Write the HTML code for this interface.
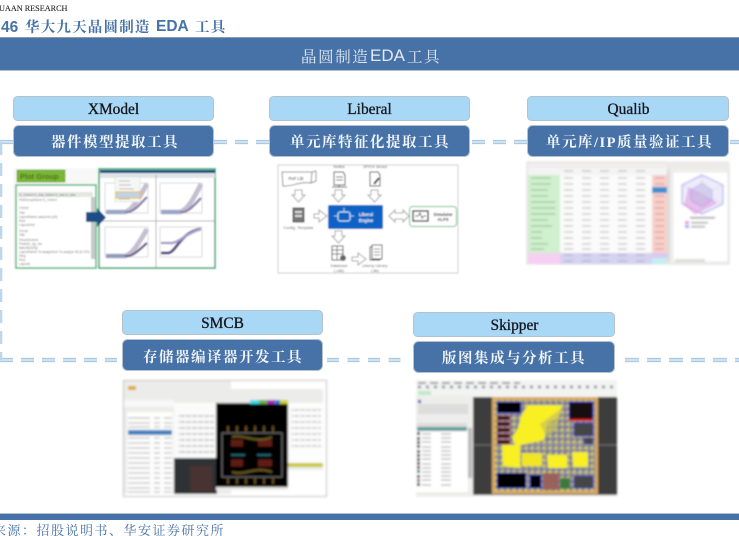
<!DOCTYPE html>
<html lang="zh">
<head>
<meta charset="utf-8">
<style>
html,body{margin:0;padding:0;background:#fff;width:739px;height:536px;overflow:hidden}
svg{display:block}
.s{font-family:"Liberation Serif","Noto Serif CJK SC",serif}
.a{font-family:"Liberation Sans","Noto Serif CJK SC",sans-serif}
</style>
</head>
<body>
<svg width="739" height="536" viewBox="0 0 739 536" xmlns="http://www.w3.org/2000/svg">
<defs>
<filter id="b1" x="-5%" y="-5%" width="110%" height="110%"><feGaussianBlur stdDeviation="0.7"/></filter>
<filter id="b2" x="-5%" y="-5%" width="110%" height="110%"><feGaussianBlur stdDeviation="1"/></filter>
<pattern id="tx" width="6" height="6" patternUnits="userSpaceOnUse"><rect x="0" y="1" width="5" height="2" fill="#b4b4b4"/></pattern>
<pattern id="mesh" width="6" height="6" patternUnits="userSpaceOnUse"><rect width="6" height="6" fill="#9c9a8c"/><rect x="0" y="0" width="3" height="3" fill="#6f72a6"/><rect x="3" y="3" width="2" height="2" fill="#e6de30"/></pattern>
</defs>

<!-- page heading -->
<text x="-1" y="11" class="s" font-size="8.200" fill="#222" stroke="#222" stroke-width=".1">UAAN RESEARCH</text>
<text x="1" y="32" class="a" font-size="15.500" font-weight="700" fill="#4672a8">46</text>
<text x="25" y="32" class="s" font-size="14.500" font-weight="700" letter-spacing="1.200" fill="#4672a8">华大九天晶圆制造</text>
<text x="156" y="31" class="a" font-size="15.500" font-weight="700" fill="#4672a8">EDA</text>
<text x="195" y="32" class="s" font-size="14.500" font-weight="700" letter-spacing="1.200" fill="#4672a8">工具</text>

<!-- title bar -->
<rect x="0" y="37" width="739" height="33.500" fill="#4672a8"/>
<rect x="0" y="37" width="739" height="1" fill="#8d98a8"/>
<rect x="0" y="70" width="739" height="1" fill="#b4bcc8"/>
<text x="301" y="62" class="s" font-size="15.500" letter-spacing="1.600" fill="#e4e9f1">晶圆制造</text>
<text x="370" y="61" class="a" font-size="17" fill="#e4e9f1">EDA</text>
<text x="407" y="62" class="s" font-size="15.500" letter-spacing="1.600" fill="#e4e9f1">工具</text>

<!-- dashed connectors -->
<g fill="none" stroke="#a6bed2" stroke-width="4.200">
<path d="M0 142H13"/>
<path d="M214 142H269" stroke-dasharray="13 8"/>
<path d="M472 142H527" stroke-dasharray="13 8"/>
<path d="M730 142H739"/>
<path d="M0 360H117" stroke-dasharray="13 8"/>
<path d="M327 360H401" stroke-dasharray="12 8.500"/>
<path d="M625 360H739" stroke-dasharray="14 8"/>
</g>
<g fill="none" stroke="#cbe3f5" stroke-width="2.600">
<path d="M0 142H13"/>
<path d="M214 142H269" stroke-dasharray="13 8"/>
<path d="M472 142H527" stroke-dasharray="13 8"/>
<path d="M730 142H739"/>
<path d="M0 360H117" stroke-dasharray="13 8"/>
<path d="M327 360H401" stroke-dasharray="12 8.500"/>
<path d="M625 360H739" stroke-dasharray="14 8"/>
</g>
<path d="M1 142V360" fill="none" stroke="#bcd6ea" stroke-width="2.600" stroke-dasharray="13 8"/>

<!-- tool boxes -->
<g stroke="#b4c2ce" stroke-width="1">
<rect x="13.500" y="96.500" width="200" height="24" rx="4" fill="#a9d8f7"/>
<rect x="269.500" y="96.500" width="200" height="24" rx="4" fill="#a9d8f7"/>
<rect x="527.500" y="96.500" width="201" height="24" rx="4" fill="#a9d8f7"/>
<rect x="122.500" y="310.500" width="200" height="24" rx="4" fill="#a9d8f7"/>
<rect x="413.500" y="312.500" width="201" height="24" rx="4" fill="#a9d8f7"/>
<rect x="13.500" y="125.500" width="200" height="31" rx="5" fill="#4672a8"/>
<rect x="269.500" y="125.500" width="200" height="31" rx="5" fill="#4672a8"/>
<rect x="527.500" y="125.500" width="201" height="31" rx="5" fill="#4672a8"/>
<rect x="122.500" y="339.500" width="200" height="31" rx="5" fill="#4672a8"/>
<rect x="413.500" y="341.500" width="201" height="31" rx="5" fill="#4672a8"/>
</g>
<g class="s" font-size="15.400" text-anchor="middle" fill="#15171c" stroke="#15171c" stroke-width=".3">
<text x="113.500" y="114">XModel</text>
<text x="369.500" y="114">Liberal</text>
<text x="628.500" y="114">Qualib</text>
<text x="222.500" y="328">SMCB</text>
<text x="514.500" y="330">Skipper</text>
</g>
<g class="s" font-size="14.500" font-weight="700" fill="#f2f5f9" letter-spacing="1.500">
<text x="51" y="147">器件模型提取工具</text>
<text x="290" y="147">单元库特征化提取工具</text>
<text x="546" y="147">单元库/IP质量验证工具</text>
<text x="143" y="362">存储器编译器开发工具</text>
<text x="442" y="363">版图集成与分析工具</text>
</g>

<!-- XModel screenshot -->
<g filter="url(#b1)">
<rect x="13" y="168" width="202" height="100" fill="#f7f8f7"/>
<rect x="17" y="170" width="48" height="12" fill="#79b735" stroke="#5c9427" stroke-width=".6"/>
<text x="20" y="179" class="a" font-size="7.500" font-weight="700" fill="#4f6d1f">Plot Group</text>
<rect x="16" y="185" width="80" height="83" fill="#fff" stroke="#62bb82" stroke-width="1.600"/>
<rect x="18" y="192" width="75" height="5" fill="#e4e6e4"/>
<g fill="#777" class="a" font-size="3.200">
<text x="19" y="196">I1_Oxford  m_aaa_tstand  m_aaa  m_aaa</text>
<text x="19" y="201">PlotGroupName:I1_Oxford</text>
<text x="19" y="209">Oxford</text><text x="19" y="214">Title</text>
<text x="19" y="218">LayoutName aaa(4x4x,pt3)</text><text x="19" y="222">Row</text>
<text x="19" y="226">LayoutGrid</text><text x="19" y="232">Group</text>
<text x="19" y="236">Title</text><text x="19" y="241">ShowDevices</text>
<text x="19" y="245">Plotsidx_typ_idx</text><text x="19" y="249">BatchBoxDlg</text>
<text x="19" y="253">LayoutName Ta aaa(picture Ta aaa)(ax 48 (8 120)</text>
<text x="19" y="257">Ring</text><text x="19" y="261">Row</text>
<text x="19" y="265">Layouts</text>
</g>
<rect x="91" y="197" width="4" height="62" fill="#c8c8c8"/>
<rect x="99" y="169" width="116" height="99" fill="#fff" stroke="#45a878" stroke-width="1.600"/>
<rect x="100" y="170" width="115" height="3" fill="#144e7e"/>
<rect x="100" y="173" width="115" height="5" fill="#dfe3e6"/>
<g fill="none" stroke="#c0c0c0" stroke-width=".6">
<rect x="105" y="183" width="43" height="30"/><rect x="160" y="183" width="42" height="30"/>
<rect x="105" y="227" width="43" height="30"/><rect x="160" y="227" width="42" height="30"/>
</g>
<path d="M99 221H215M156 175V268" stroke="#999" stroke-width=".7"/>
<g fill="none">
<path d="M106 212H125C133 210 140 196 147 184" stroke="#c4c0d0" stroke-width="5"/>
<path d="M106 212H128C135 211 141 203 147 197" stroke="#8e83ad" stroke-width="2.500"/>
<path d="M161 212H180C188 210 195 196 201 184" stroke="#c4c0d0" stroke-width="5"/>
<path d="M161 212H183C190 211 196 203 201 198" stroke="#8e83ad" stroke-width="2.500"/>
<path d="M106 256H125C133 254 140 241 147 229" stroke="#c4c0d0" stroke-width="5"/>
<path d="M106 256H128C135 255 141 248 147 243" stroke="#74648e" stroke-width="2.500"/>
<path d="M161 253H168C176 253 180 232 201 229" stroke="#5e5288" stroke-width="3"/>
<path d="M161 243H170C178 244 184 234 201 229" stroke="#a8a0c8" stroke-width="2.500"/>
</g>
<path d="M106 212H125M161 212H180M106 256H125" stroke="#7fb7e0" stroke-width="1.200"/>
<rect x="115" y="177" width="25" height="25" fill="#f6f6f6" stroke="#ccc" stroke-width=".4"/>
<path d="M119 181H130M119 185H131M119 189H134M119 199H130" stroke="#aaa" stroke-width=".8"/>
<rect x="116" y="192" width="24" height="6" fill="#b9d4ee" stroke="#ecc23e" stroke-width="1.200"/>
<path d="M86 212H97V208L106 217.500L97 227V222H86Z" fill="#1c4d86"/>
</g>

<!-- Liberal flow -->
<g filter="url(#b1)">
<rect x="278" y="165" width="180" height="108" fill="#fff" stroke="#cfcfcf" stroke-width="1"/>
<path d="M282 172H312L311 183C300 181 292 187 283 186Z" fill="#fff" stroke="#8d8d8d"/>
<path d="M312 172L316 171V181L311 183" fill="none" stroke="#8d8d8d"/>
<text x="296" y="180" class="a" font-size="4.800" text-anchor="middle" fill="#333">Ref Lib</text>
<text x="339" y="168" class="a" font-size="4" text-anchor="middle" fill="#555">Netlist</text>
<text x="375" y="168" class="a" font-size="4" text-anchor="middle" fill="#555">SPICE Model</text>
<path d="M334 172H343L345 175V185H334Z" fill="#fff" stroke="#333"/><path d="M336 177H343M336 180H343" stroke="#333" stroke-width=".8"/><path d="M332 187H347M339 185V187" stroke="#333"/>
<path d="M370 172H378L380 175V186H370Z" fill="#fff" stroke="#333"/><path d="M374 184L379 178" stroke="#333" stroke-width="2"/>
<g fill="#fff" stroke="#a5a5a5" stroke-width="1">
<path d="M295 190H302V195H305L298.500 202L292 195H295Z"/>
<path d="M335 190H342V195H345L338.500 202L332 195H335Z"/>
<path d="M371 190H378V195H381L374.500 202L368 195H371Z"/>
<path d="M335 231H342V236H345L338.500 243L332 236H335Z"/>
<path d="M314 214H319V210L327 216L319 222V218H314Z"/>
<path d="M352 257H358V253L366 259L358 265V261H352Z"/>
<path d="M389 216L395 210V213H403V210L409 216L403 222V219H395V222Z"/>
</g>
<rect x="293" y="208" width="11" height="14" fill="#777" stroke="#444"/><rect x="295" y="211" width="7" height="2" fill="#ddd"/><rect x="295" y="215" width="7" height="2" fill="#ddd"/>
<text x="298.500" y="229" class="a" font-size="4" text-anchor="middle" fill="#555">Config. Template</text>
<rect x="328" y="205" width="55" height="24" rx="1.500" fill="#0a63c5"/>
<rect x="338" y="212" width="12" height="9" rx="2" fill="none" stroke="#d4e4f7" stroke-width="1"/>
<path d="M334 216H338M350 216H354M344 208V212" stroke="#d4e4f7" stroke-width=".8"/>
<text x="366" y="216" class="a" font-size="4.300" font-weight="700" text-anchor="middle" fill="#fff">Liberal</text>
<text x="366" y="222" class="a" font-size="4.300" font-weight="700" text-anchor="middle" fill="#fff">Engine</text>
<rect x="409.500" y="206.500" width="47" height="20" rx="3" fill="#fff" stroke="#8dc9a4" stroke-width="1.200"/>
<rect x="413" y="211" width="15" height="10" fill="#fff" stroke="#222" stroke-width="1.300"/>
<path d="M415 216H418L420 213L422 218L424 216H426" stroke="#222" fill="none" stroke-width=".8"/>
<text x="443" y="216" class="a" font-size="4.200" font-weight="700" text-anchor="middle" fill="#222">Simulator</text>
<text x="443" y="221" class="a" font-size="4.200" font-weight="700" text-anchor="middle" fill="#222">ALPS</text>
<rect x="332" y="246" width="11" height="14" fill="#fff" stroke="#444"/><path d="M332 250H343M332 254H343M337 246V260" stroke="#444" stroke-width=".7"/><circle cx="343" cy="258" r="3" fill="#666"/>
<text x="339" y="267" class="a" font-size="4" text-anchor="middle" fill="#555">Database</text>
<text x="339" y="272" class="a" font-size="4" text-anchor="middle" fill="#555">(.cdb)</text>
<rect x="370" y="247" width="10" height="13" fill="#fff" stroke="#444"/><rect x="372" y="245" width="10" height="14" fill="#fff" stroke="#444"/><path d="M374 249H380M374 252H380M374 255H380" stroke="#666" stroke-width=".7"/>
<text x="375" y="267" class="a" font-size="4" text-anchor="middle" fill="#555">Liberty Library</text>
<text x="375" y="272" class="a" font-size="4" text-anchor="middle" fill="#555">(.lib)</text>
</g>

<!-- Qualib screenshot -->
<g filter="url(#b2)">
<rect x="527" y="162" width="202" height="102" fill="#f0efec" stroke="#c8c8c8" stroke-width=".6"/>
<rect x="528" y="168" width="140" height="7" fill="#f4f4f4"/>
<rect x="528" y="175" width="32" height="78" fill="#d0f0cf"/>
<rect x="560" y="175" width="92" height="78" fill="#fbfbfb"/>
<rect x="652" y="175" width="15" height="78" fill="#f8d0cb"/>
<rect x="652" y="187" width="15" height="6" fill="#3e8ed2"/>
<rect x="667" y="168" width="3" height="94" fill="#dcdcd8"/>
<rect x="528" y="253" width="32" height="11" fill="#f6d0f2"/>
<rect x="560" y="253" width="92" height="11" fill="#d6d2f2"/>
<rect x="652" y="253" width="15" height="6" fill="#d8caf0"/>
<rect x="652" y="258" width="15" height="6" fill="#c4eff2"/>
<g stroke="#a8a8a8" stroke-width="1" stroke-dasharray="9 9">
<path d="M564 178H650M564 184H650M564 190H650M564 196H650M564 202H650M564 208H650M564 214H650M564 220H650M564 226H650M564 232H650M564 238H650M564 244H650M564 249H650M564 255H650M564 261H650M564 171H650"/>
</g>
<g stroke="#86b47e" stroke-width="1"><path d="M531 178H551M531 184H551M531 190H548M531 196H548M531 202H555M531 208H555M531 214H555M531 220H548M531 226H552M531 232H542M531 238H542M531 244H548M531 249H544"/></g>
<g stroke="#d09090" stroke-width="1"><path d="M655 178H664M655 184H664M655 196H664M655 202H664M655 208H664M655 214H664M655 220H664M655 226H664M655 232H664M655 238H664M655 244H664M655 249H664"/></g>
<rect x="673" y="172" width="55" height="90" fill="#fff" stroke="#ddd" stroke-width=".5"/>
<path d="M702 175L723 185V204L702 214L682 204V185Z" fill="#eeecfb" stroke="#8484e8" stroke-width=".8"/>
<path d="M702 194L689 188L685 205L695 214L716 203Z" fill="#e6a4e2" opacity=".6" stroke="#d95cd8" stroke-width=".8"/>
<path d="M702 183L712 190V200L702 207L691 200V190Z" fill="#bcb4e6" opacity=".5" stroke="#6a6ad8" stroke-width=".7"/>
<path d="M702 175V214M682 185L723 204M723 185L682 204" stroke="#ccc" stroke-width=".5"/>
<rect x="666" y="162" width="63" height="7" fill="#ecebe8"/>
<rect x="690" y="217" width="25" height="1.500" fill="#888"/>
<rect x="685" y="221" width="4" height="3" fill="#e890e0"/><rect x="691" y="222" width="17" height="1.500" fill="#999"/>
<rect x="685" y="225" width="4" height="3" fill="#a0a0f0"/><rect x="691" y="226" width="14" height="1.500" fill="#999"/>
<rect x="675" y="259" width="30" height="3" fill="#ddd"/>
</g>

<!-- SMCB screenshot -->
<g filter="url(#b2)">
<rect x="123.500" y="380.500" width="203" height="116" fill="#fff" stroke="#bcbcbc" stroke-width="1"/>
<rect x="124" y="381" width="107" height="113" fill="#ececea"/>
<rect x="127" y="412" width="46" height="82" fill="#fdfdfd"/>
<rect x="124" y="400" width="50" height="7" fill="#f8f8f8"/>
<rect x="128" y="386" width="8" height="4" fill="#e0ab38"/>
<path d="M128 418H172M128 423H172M128 427H172M128 438H172M128 443H172M128 448H172M128 453H172M128 458H172M128 463H172M128 468H172M128 473H172M128 478H172M128 483H172M128 488H172M128 492H172" stroke="#aaa" stroke-width="1" stroke-dasharray="22 4 6 4 10 3"/>
<rect x="128" y="430" width="44" height="5" fill="#3f81bc"/>
<rect x="174" y="403" width="42" height="55" fill="#fbfbfb"/>
<rect x="178" y="413" width="36" height="42" fill="url(#tx)" opacity=".7"/>
<rect x="174" y="458" width="43" height="36" fill="#2d3334"/>
<rect x="190" y="466" width="22" height="26" fill="#5e3430" opacity=".6"/>
<rect x="216" y="389" width="107" height="81" fill="#ececea"/>
<rect x="288" y="403" width="35" height="60" fill="#fdfdfd"/>
<rect x="291" y="408" width="30" height="43" fill="url(#tx)" opacity=".6"/>
<rect x="288" y="463" width="35" height="4" fill="#c9c83e"/>
<rect x="216" y="470" width="72" height="20" fill="#e8e8e6"/>
<rect x="216" y="403" width="72" height="84" fill="#000"/>
<rect x="250" y="400" width="9" height="4" fill="#3ed8e8"/><rect x="259" y="400" width="8" height="4" fill="#6ab04a"/><rect x="267" y="400" width="8" height="4" fill="#a030b8"/><rect x="275" y="400" width="5" height="4" fill="#2080d0"/><rect x="280" y="400" width="8" height="4" fill="#d0d020"/>
<rect x="222" y="433" width="60" height="44" fill="none" stroke="#888" stroke-width=".8"/>
<path d="M228 426V432M237 426V432M246 426V432M255 426V432M264 426V432M273 426V432M228 478V484M237 478V484M246 478V484M255 478V484M264 478V484M273 478V484" stroke="#8a6826" stroke-width="1.200"/>
<path d="M231 443H243M231 463H243M258 443H272M258 463H272" stroke="#5e1a14" stroke-width="7"/>
<path d="M232 437C245 434 255 444 272 437M232 472C245 476 255 466 272 472" stroke="#6a5c20" stroke-width="2" fill="none"/>
<path d="M231 455H245M257 455H271" stroke="#2a7a88" stroke-width="1.500"/>
</g>

<!-- Skipper screenshot -->
<g filter="url(#b2)">
<rect x="416" y="380" width="201" height="117" fill="#f3f3f1"/>
<path d="M418 383H520" stroke="#555" stroke-width="1.200" stroke-dasharray="8 4"/>
<path d="M418 387H616" stroke="#7786a0" stroke-width="2.500" stroke-dasharray="3 5"/>
<rect x="418" y="391" width="13" height="4" fill="#bfe8c4"/>
<rect x="416" y="396" width="56" height="100" fill="#ededeb"/>
<rect x="418" y="400" width="3" height="3" fill="#1a33aa"/>
<rect x="418" y="404" width="50" height="10" fill="#ddd"/>
<rect x="416" y="429" width="52" height="63" fill="#fff"/>
<rect x="417" y="423" width="50" height="4" fill="#ddd"/>
<rect x="417" y="427" width="50" height="4" fill="#5d9c98"/>
<g fill="#111"><rect x="417" y="432" width="3" height="3"/><rect x="417" y="437" width="3" height="3"/><rect x="417" y="441" width="3" height="3"/><rect x="417" y="445" width="3" height="3"/><rect x="417" y="450" width="3" height="3"/><rect x="417" y="454" width="3" height="3"/><rect x="417" y="458" width="3" height="3"/><rect x="417" y="462" width="3" height="3"/><rect x="417" y="466" width="3" height="3"/><rect x="417" y="470" width="3" height="3" fill="#186a20"/><rect x="417" y="475" width="3" height="3"/><rect x="417" y="479" width="3" height="3" fill="#786050"/><rect x="417" y="483" width="3" height="3"/></g>
<path d="M422 434H431M441 434H451M422 438H431M441 438H451M422 442H431M441 442H451M422 447H431M441 447H451M422 451H431M441 451H451M422 455H431M441 455H451M422 459H431M441 459H451M422 464H431M441 464H451M422 468H431M441 468H451M422 472H431M441 472H451M422 476H431M441 476H451M422 480H431M441 480H451M422 485H431M441 485H451" stroke="#666" stroke-width=".8"/>
<rect x="468" y="428" width="4" height="50" fill="#b8b8b8"/>
<rect x="473" y="397" width="144" height="98" fill="#3d3d3d"/>
<rect x="492" y="397" width="106" height="97" fill="#d8a860"/>
<rect x="495" y="400" width="100" height="91" fill="url(#mesh)"/>
<path d="M473 445H617" stroke="#aaa" stroke-width=".5"/>
<path d="M528 405H562L558 418L548 422L544 440L530 443L516 446L512 438L518 428L522 414Z" fill="#f8f020"/>
<path d="M502 445H520L520 468L503 466Z" fill="#f8f020"/>
<path d="M522 453H542V466H522Z" fill="#f0e622"/>
<path d="M547 455H567V468H548Z" fill="#f8f020"/>
<path d="M572 452H588V467H573Z" fill="#f8f020"/>
<path d="M540 424L562 408L556 430L546 436Z" fill="#c8c25a" opacity=".7"/>
<rect x="497" y="402" width="24" height="11" fill="#000" stroke="#3333cc" stroke-width=".8"/>
<rect x="569" y="402" width="24" height="18" fill="#180808" stroke="#2828cc"/>
<rect x="569" y="419" width="24" height="2" fill="#e01818"/>
<rect x="574" y="423" width="19" height="13" fill="#444" stroke="#3333cc" stroke-width=".8"/>
<rect x="584" y="438" width="9" height="6" fill="#444" stroke="#3333cc" stroke-width=".5"/>
<rect x="497" y="416" width="13" height="4" fill="#111" stroke="#d05050" stroke-width=".6"/>
<rect x="497" y="422" width="13" height="4" fill="#111" stroke="#d05050" stroke-width=".6"/>
<rect x="497" y="428" width="13" height="4" fill="#111" stroke="#d05050" stroke-width=".6"/>
<rect x="497" y="434" width="13" height="4" fill="#111" stroke="#d05050" stroke-width=".6"/>
<rect x="497" y="440" width="13" height="4" fill="#111" stroke="#d05050" stroke-width=".6"/>
<rect x="497" y="473" width="29" height="15" fill="#000" stroke="#3333cc" stroke-width=".8"/>
<rect x="530" y="475" width="11" height="13" fill="#000" stroke="#3333cc" stroke-width=".8"/>
<rect x="543" y="473" width="16" height="17" fill="#8a6e40"/>
<path d="M545 473V490M549 473V490M553 473V490M557 473V490" stroke="#c02090" stroke-width="1"/>
<rect x="560" y="478" width="10" height="11" fill="#3a7a3a"/>
<rect x="574" y="476" width="19" height="12" fill="#444" stroke="#3333cc" stroke-width=".8"/>
</g>

<!-- footer -->
<rect x="0" y="514" width="739" height="6" fill="#4672a8"/>
<rect x="0" y="513" width="739" height="1" fill="#b8bec6"/>
<text x="-7" y="535" class="s" font-size="13" letter-spacing="1.500" fill="#4672a8">来源：招股说明书、华安证券研究所</text>
</svg>
</body>
</html>
